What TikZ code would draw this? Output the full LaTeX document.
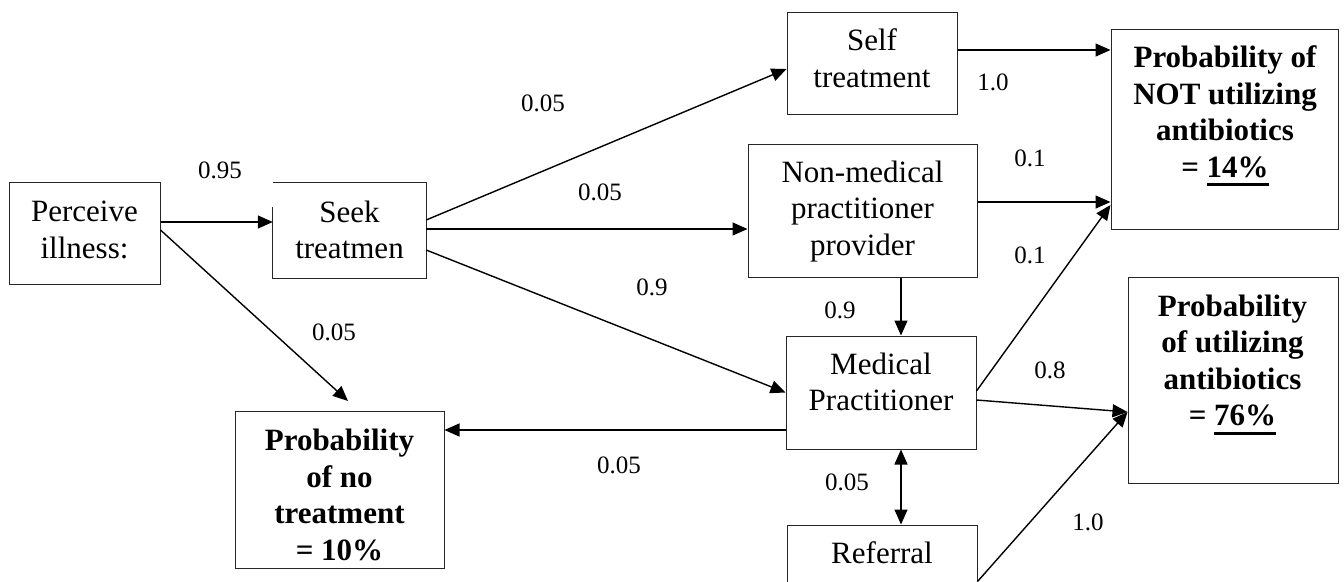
\documentclass[tikz,border=0pt]{standalone}
\usepackage{fontspec}
\setmainfont{Liberation Serif}
\usetikzlibrary{arrows.meta}
\newcommand\myul[1]{\setbox0\hbox{#1}\rlap{\vrule height -6pt depth 9pt width \wd0}\box0}
\tikzset{
  boxline/.style={draw=black!85, line width=1pt},
  box/.style={boxline, rectangle, inner sep=0pt},
  btxt/.style={align=center, inner sep=0pt, font=\fontsize{31}{36.5}\selectfont},
  bold/.style={align=center, inner sep=0pt, font=\fontsize{31}{36.5}\selectfont\bfseries},
  lab/.style={inner sep=0pt, font=\fontsize{25}{30}\selectfont},
  conn/.style={line width=1.4pt, -{Triangle[length=15pt,width=13pt]}},
  dconn/.style={line width=1.4pt, {Triangle[length=15pt,width=13pt]}-{Triangle[length=15pt,width=13pt]}},
  plain/.style={line width=1.4pt}
}
\begin{document}
\begin{tikzpicture}[x=1pt, y=-1pt]
\useasboundingbox (0,0) rectangle (1344,581);
\clip (0,0) rectangle (1344,581);
\fill[white] (0,0) rectangle (1344,581);
% boxes
\node[box, minimum width=151pt, minimum height=102pt] (perc) at (84.5,233) {};
\node[btxt] (percT) at (84.5,230) {Perceive\\illness:};
\node[rectangle, inner sep=0pt, minimum width=153pt, minimum height=95pt] (seek) at (349.5,230.5) {};
\draw[boxline] ([yshift=-24pt]seek.north west) -- (seek.south west) -- (seek.south east) -- (seek.north east) -- (seek.north west);
\node[btxt] (seekT) at (349.5,229.8) {Seek\\treatmen};
\node[box, minimum width=170pt, minimum height=102pt] (self) at (872,63) {};
\node[btxt] (selfT) at (872,58.3) {Self\\treatment};
\node[box, minimum width=229pt, minimum height=133pt] (nmp) at (862.5,210.5) {};
\node[btxt] (nmpT) at (862.5,211.5) {Non-medical\\practitioner\\provider};
\node[box, minimum width=190pt, minimum height=113pt] (med) at (881,392.5) {};
\node[btxt] (medT) at (881,382) {Medical\\Practitioner};
\node[box, minimum width=190pt, minimum height=113pt] (ref) at (882,581.5) {};
\node[btxt] (refT) at (882,552.8) {Referral};
\node[box, minimum width=209pt, minimum height=157pt] (nt) at (339.5,489.5) {};
\node[bold] (ntT) at (339.5,494.9) {Probability\\of no\\treatment\\= 10\%};
\node[box, minimum width=227pt, minimum height=200pt] (p14) at (1224.5,129) {};
\node[bold] (p14T) at (1225,116.1) {Probability of\\NOT utilizing\\antibiotics\\= \myul{14\%}};
\node[box, minimum width=210pt, minimum height=206pt] (p76) at (1233,380) {};
\node[bold] (p76T) at (1232.5,364.7) {Probability\\of utilizing\\antibiotics\\= \myul{76\%}};
% connectors
\draw[conn] ([yshift=11pt]perc.east) -- ([yshift=8.5pt]seek.west);
\draw[conn] ([yshift=3pt]perc.east) -- ([xshift=8.5pt,yshift=9.5pt]nt.north);
\draw[conn] ([yshift=10.5pt]seek.east) -- ([yshift=-6pt]self.west);
\draw[conn] ([yshift=1.5pt]seek.east) -- ([yshift=-18.5pt]nmp.west);
\draw[conn] ([yshift=-19.5pt]seek.east) -- (med.west);
\draw[conn] ([xshift=38.5pt]nmp.south) -- ([xshift=20pt]med.north);
\draw[dconn] ([xshift=20pt]med.south) -- ([xshift=19pt]ref.north);
\draw[conn] ([yshift=-37.5pt]med.west) -- ([yshift=59.5pt]nt.east);
\draw[conn] ([yshift=13pt]self.east) -- ([yshift=79pt]p14.west);
\draw[conn] ([yshift=8.5pt]nmp.east) -- ([yshift=-73pt]p14.west);
\draw[conn] ([yshift=1.5pt]med.east) -- ([yshift=-76pt]p14.west);
\draw[conn] ([yshift=-7.5pt]med.east) -- ([yshift=-32pt]p76.west);
\draw[conn] (ref.east) -- ([yshift=-32pt]p76.west);
% labels
\node[lab] (l1) at (220,170) {0.95};
\node[lab] (l2) at (543,103) {0.05};
\node[lab] (l3) at (600,192) {0.05};
\node[lab] (l4) at (652,287) {0.9};
\node[lab] (l5) at (334,332) {0.05};
\node[lab] (l6) at (619,465) {0.05};
\node[lab] (l7) at (993,82) {1.0};
\node[lab] (l8) at (1030,158) {0.1};
\node[lab] (l9) at (1030,255) {0.1};
\node[lab] (l10) at (840,310) {0.9};
\node[lab] (l11) at (1050,370) {0.8};
\node[lab] (l12) at (1088,522) {1.0};
\node[lab] (l13) at (847,482) {0.05};
\end{tikzpicture}
\end{document}
